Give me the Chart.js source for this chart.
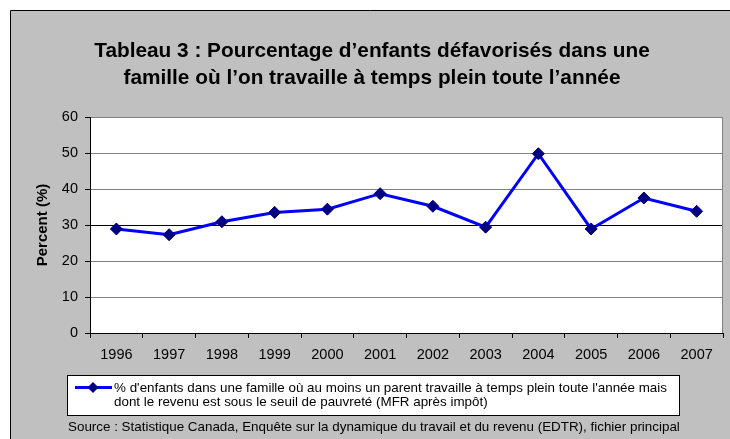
<!DOCTYPE html>
<html>
<head>
<meta charset="utf-8">
<script src="https://cdn.jsdelivr.net/npm/chart.js@4/dist/chart.umd.min.js"></script>
<style>
  body { margin: 0; background: #fff; }
  #wrap { width: 730px; height: 439px; }
</style>
</head>
<body>
<div id="wrap"><canvas id="povertyChart" width="730" height="439"></canvas></div>
<script>
// chart data
var years = ['1996', '1997', '1998', '1999', '2000', '2001', '2002', '2003', '2004', '2005', '2006', '2007'];
var percents = [28.9, 27.3, 30.9, 33.5, 34.4, 38.7, 35.2, 29.4, 49.8, 28.9, 37.5, 33.8];
var yTicks = [0, 10, 20, 30, 40, 50, 60];
var titleLines = ['Tableau 3 : Pourcentage d\u2019enfants d\u00e9favoris\u00e9s dans une',
                  'famille o\u00f9 l\u2019on travaille \u00e0 temps plein toute l\u2019ann\u00e9e'];
var seriesLabel = ['% d\'enfants dans une famille o\u00f9 au moins un parent travaille \u00e0 temps plein toute l\'ann\u00e9e mais',
                   'dont le revenu est sous le seuil de pauvret\u00e9 (MFR apr\u00e8s imp\u00f4t)'];
var sourceText = 'Source : Statistique Canada, Enqu\u00eate sur la dynamique du travail et du revenu (EDTR), fichier principal';

var FONT = 'Arial, "Liberation Sans", sans-serif';

// gray frame, white plot area, right border
var framePlugin = {
    id: 'frame',
    beforeDraw: function (chart) {
        var c = chart.ctx, a = chart.chartArea;
        c.save();
        c.fillStyle = '#ffffff';
        c.fillRect(0, 0, chart.width, chart.height);
        c.fillStyle = '#c0c0c0';
        c.fillRect(10, 10, chart.width - 10, chart.height - 10);
        c.strokeStyle = '#000000';
        c.lineWidth = 1;
        c.beginPath();
        c.moveTo(10.5, chart.height);
        c.lineTo(10.5, 10.5);
        c.lineTo(chart.width, 10.5);
        c.stroke();
        c.fillStyle = '#ffffff';
        c.fillRect(a.left, a.top, a.right - a.left, a.bottom - a.top);
        c.restore();
    },
    afterDatasetsDraw: function (chart) {
        var c = chart.ctx, a = chart.chartArea;
        c.save();
        c.strokeStyle = '#808080';
        c.lineWidth = 1;
        c.beginPath();
        c.moveTo(Math.round(a.right) - 0.5, a.top);
        c.lineTo(Math.round(a.right) - 0.5, a.bottom);
        c.stroke();
        c.restore();
    }
};

// title, legend box and source line
var textPlugin = {
    id: 'texts',
    afterDraw: function (chart) {
        var c = chart.ctx;
        c.save();
        c.fillStyle = '#000000';
        c.textAlign = 'center';
        c.textBaseline = 'middle';
        c.font = 'bold 20.8px ' + FONT;
        c.fillText(titleLines[0], 372, 51);
        c.fillText(titleLines[1], 372, 78);

        // legend
        var ds = chart.data.datasets[0];
        c.fillStyle = '#ffffff';
        c.fillRect(67.5, 375.5, 612, 40);
        c.strokeStyle = '#000000';
        c.lineWidth = 1;
        c.strokeRect(67.5, 375.5, 612, 40);
        c.strokeStyle = ds.borderColor;
        c.lineWidth = 3;
        c.beginPath();
        c.moveTo(75, 387.5);
        c.lineTo(112, 387.5);
        c.stroke();
        c.fillStyle = ds.pointBackgroundColor;
        c.beginPath();
        c.moveTo(93, 382);
        c.lineTo(98.5, 387.5);
        c.lineTo(93, 393);
        c.lineTo(87.5, 387.5);
        c.closePath();
        c.fill();
        c.fillStyle = '#000000';
        c.textAlign = 'left';
        c.font = '13.4px ' + FONT;
        c.fillText(ds.label[0], 114, 388);
        c.fillText(ds.label[1], 114, 402);
        c.fillText(sourceText, 68, 427);
        c.restore();
    }
};

var chart = new Chart(document.getElementById('povertyChart'), {
    type: 'line',
    data: {
        labels: years,
        datasets: [{
            label: seriesLabel,
            data: percents,
            borderColor: '#0000ff',
            borderWidth: 3,
            tension: 0,
            fill: false,
            pointStyle: 'rectRot',
            pointRadius: 6,
            pointBorderWidth: 1,
            pointBackgroundColor: '#000080',
            pointBorderColor: '#000080'
        }]
    },
    options: {
        responsive: false,
        animation: false,
        devicePixelRatio: 1,
        layout: { padding: { left: 34, top: 117, right: 5, bottom: 76 } },
        plugins: {
            legend: { display: false },
            title: { display: false },
            tooltip: { enabled: false }
        },
        scales: {
            x: {
                type: 'category',
                offset: true,
                afterFit: function (scale) { scale.height = 30; },
                grid: { offset: true, drawOnChartArea: false, tickLength: 5, tickColor: '#000000' },
                border: { color: '#000000', width: 1 },
                ticks: { color: '#000000', padding: 8, maxRotation: 0, font: { family: FONT, size: 14.5 } }
            },
            y: {
                min: yTicks[0],
                max: yTicks[yTicks.length - 1],
                afterFit: function (scale) { scale.width = 56; },
                afterBuildTicks: function (scale) {
                    scale.ticks = yTicks.map(function (v) { return { value: v }; });
                },
                grid: {
                    color: function (ctx) { return ctx.tick && ctx.tick.value === 30 ? '#000000' : '#808080'; },
                    tickColor: '#000000',
                    tickLength: 5
                },
                border: { color: '#000000', width: 1 },
                ticks: { color: '#000000', padding: 7, font: { family: FONT, size: 14.5 } },
                title: {
                    display: true,
                    text: 'Percent (%)',
                    color: '#000000',
                    padding: 0,
                    font: { family: FONT, size: 15, weight: 'bold' }
                }
            }
        }
    },
    plugins: [framePlugin, textPlugin]
});
</script>
</body>
</html>
